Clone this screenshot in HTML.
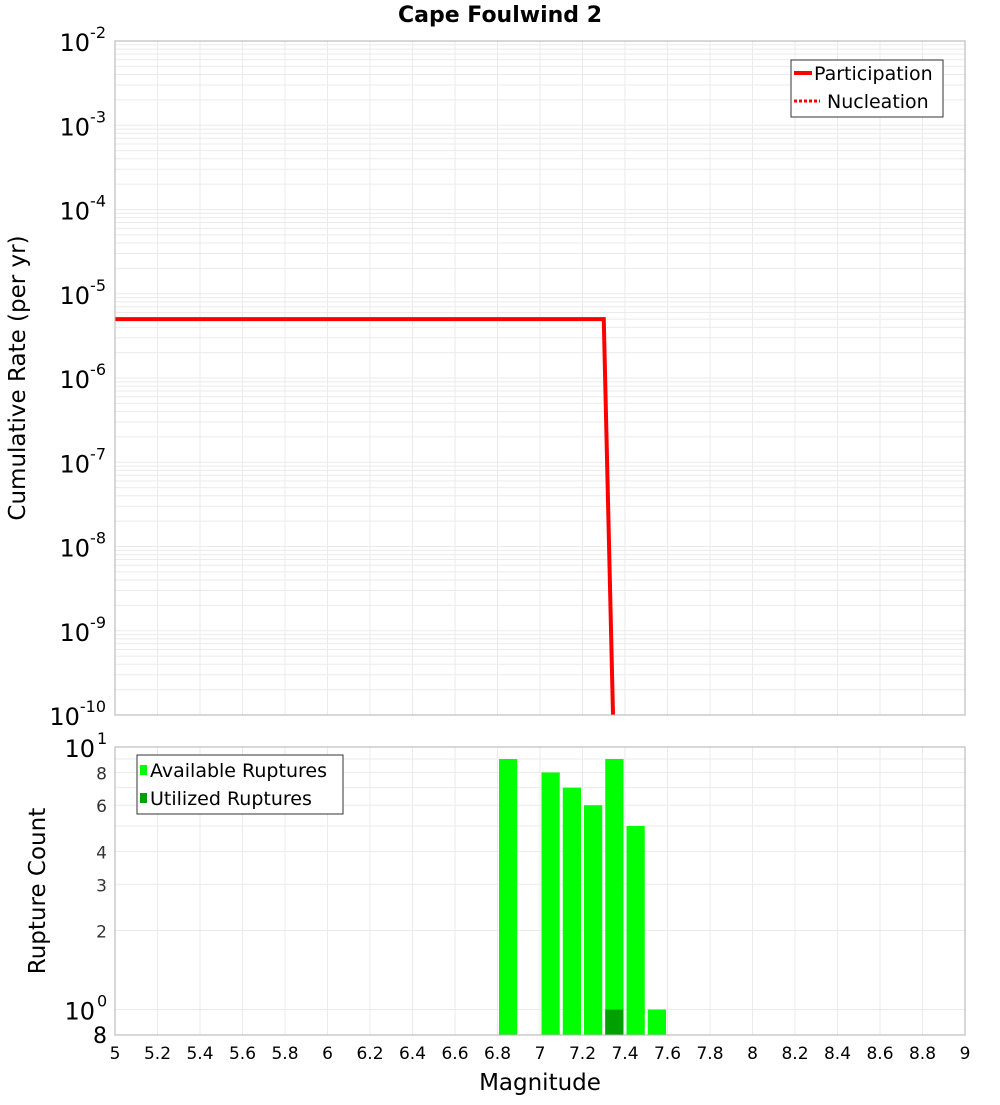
<!DOCTYPE html>
<html><head><meta charset="utf-8"><style>
body{margin:0;background:#fff;}
svg text{font-family:"DejaVu Sans","Liberation Sans",sans-serif;}
</style></head><body>
<svg id="chart" width="1000" height="1100" xmlns="http://www.w3.org/2000/svg">
<rect width="1000" height="1100" fill="#fff"/>
<text x="500" y="22" text-anchor="middle" font-size="22" font-weight="bold">Cape Foulwind 2</text>
<g id="topG"></g>
<g id="botG"></g>
<text transform="translate(25,378) rotate(-90)" text-anchor="middle" font-size="23">Cumulative Rate (per yr)</text>
<text transform="translate(45,891) rotate(-90)" text-anchor="middle" font-size="23">Rupture Count</text>
<text x="540" y="1090" text-anchor="middle" font-size="23">Magnitude</text>
<g>
<rect x="791" y="60" width="152" height="57" fill="#fff" stroke="#333"/>
<line x1="794" y1="73" x2="812" y2="73" stroke="#f00" stroke-width="4"/>
<text x="814" y="80" font-size="19">Participation</text>
<line x1="794" y1="101" x2="820" y2="101" stroke="#f00" stroke-width="3" stroke-dasharray="3,2"/>
<text x="827" y="108" font-size="19">Nucleation</text>
</g>
<g>
<rect x="137" y="755" width="206" height="59" fill="#fff" stroke="#333"/>
<rect x="140" y="765" width="7" height="10" fill="#00ff00"/>
<text x="150" y="777" font-size="19">Available Ruptures</text>
<rect x="140" y="793" width="7" height="10" fill="#00a000"/>
<text x="150" y="805" font-size="19">Utilized Ruptures</text>
</g>
</svg>
<script>
const rateMags=[5,7.3,7.35];
const rateVals=[5e-6,5e-6,2e-11];
const binCenters=[6.85,7.05,7.15,7.25,7.35,7.45,7.55];
const availCounts=[9,8,7,6,9,5,1];
const utilCenters=[7.35];
const utilCounts=[1];
const xTicks=[5,5.2,5.4,5.6,5.8,6,6.2,6.4,6.6,6.8,7,7.2,7.4,7.6,7.8,8,8.2,8.4,8.6,8.8,9];
const topDecades=[-10,-9,-8,-7,-6,-5,-4,-3,-2];
const botTicks=[2,3,4,6,8];

const NS='http://www.w3.org/2000/svg';
const X0=115,X1=965;
const xs=m=>X0+(m-5)/(9-5)*(X1-X0);
const T0=41,T1=715;
const yTop=v=>T1-(Math.log10(v)+10)/8*(T1-T0);
const B0=747,B1=1035,bMin=Math.log10(0.8),bMax=1;
const yBot=v=>B1-(Math.log10(v)-bMin)/(bMax-bMin)*(B1-B0);
function mk(p,tag,a,txt){const e=document.createElementNS(NS,tag);for(const k in a)e.setAttribute(k,a[k]);if(txt!==undefined)e.textContent=txt;p.appendChild(e);return e;}
const topG=document.getElementById('topG'),botG=document.getElementById('botG');
mk(topG,'rect',{x:X0,y:T0,width:X1-X0,height:T1-T0,fill:'#fff'});
for(let d=-10;d<-2;d++)for(let k=1;k<10;k++){const y=yTop(k*Math.pow(10,d));mk(topG,'line',{x1:X0,x2:X1,y1:y,y2:y,stroke:'#ebebeb','stroke-width':1});}
xTicks.forEach(t=>{const x=xs(t);mk(topG,'line',{x1:x,x2:x,y1:T0,y2:T1,stroke:'#ebebeb'});mk(botG,'line',{x1:x,x2:x,y1:B0,y2:B1,stroke:'#ebebeb'});});
topDecades.forEach(d=>{const y=yTop(Math.pow(10,d));const t=mk(topG,'text',{x:106,y:y+10,'text-anchor':'end','font-size':24});
 
 
 t.textContent='10';mk(t,'tspan',{dy:-13,'font-size':16},String(d));});
const defs=mk(topG,'defs',{});
const cp=mk(defs,'clipPath',{id:'cp'});
mk(cp,'rect',{x:X0,y:T0,width:X1-X0,height:T1-T0});
let pts=rateMags.map((m,i)=>xs(m)+','+yTop(rateVals[i])).join(' ');
const l1=mk(topG,'polyline',{points:pts,fill:'none',stroke:'#f00','stroke-width':4,'clip-path':'url(#cp)'});


const l2=mk(topG,'polyline',{points:pts,fill:'none',stroke:'#f00','stroke-width':2,'stroke-dasharray':'3,2','clip-path':'url(#cp)'});


mk(topG,'rect',{x:X0,y:T0,width:X1-X0,height:T1-T0,fill:'none',stroke:'#b0b0b0'});
for(let k=1;k<=10;k++){const y=yBot(k);mk(botG,'line',{x1:X0,x2:X1,y1:y,y2:y,stroke:'#ebebeb'});}
botTicks.forEach(v=>{const t=mk(botG,'text',{x:107,y:yBot(v)+7,'text-anchor':'end','font-size':17,fill:'#333'},String(v));
 
 });
[[10,'1'],[1,'0']].forEach(([v,e])=>{const t=mk(botG,'text',{x:95,y:yBot(v)+10,'text-anchor':'end','font-size':24},'10');
 
 
 mk(botG,'text',{x:97,y:yBot(v)-3,'font-size':16},e);});
mk(botG,'text',{x:107,y:1043,'text-anchor':'end','font-size':22},'8');
binCenters.forEach((c,i)=>{const x=xs(c-0.05)+1.5,w=xs(c+0.05)-xs(c-0.05)-3,y=yBot(availCounts[i]);
 const r=mk(botG,'rect',{x:x,y:y,width:w,height:B1-y,fill:'#00ff00'});
 
 });
utilCenters.forEach((c,i)=>{const x=xs(c-0.05)+1.5,w=xs(c+0.05)-xs(c-0.05)-3,y=yBot(utilCounts[i]);
 const r=mk(botG,'rect',{x:x,y:y,width:w,height:B1-y,fill:'#00a000'});
 
 });
mk(botG,'rect',{x:X0,y:B0,width:X1-X0,height:B1-B0,fill:'none',stroke:'#b0b0b0'});
xTicks.forEach(t=>{const e=mk(botG,'text',{x:xs(t),y:1059,'text-anchor':'middle','font-size':17},String(t));
 
 });
</script>
</body></html>
